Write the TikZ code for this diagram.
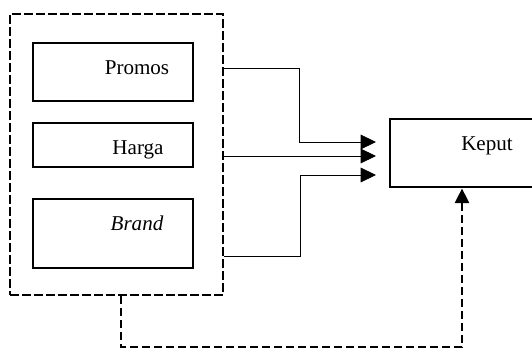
\documentclass[tikz,border=0pt]{standalone}
\usepackage{fontspec}
\setmainfont{Liberation Serif}
\usetikzlibrary{arrows.meta,fit}

\begin{document}
\begin{tikzpicture}[x=0.75pt,y=-0.75pt,
  box/.style={draw,line width=2.2pt,inner sep=0pt},
  groupbox/.style={draw,line width=2pt,inner sep=0pt,dash pattern=on 6.5pt off 2.5pt},
  label/.style={anchor=base,inner sep=0pt,font=\fontsize{15.8}{19}\selectfont},
  conn/.style={line width=0.6pt,-{Triangle[length=11.5pt,width=11pt]}},
  feedback/.style={line width=2.2pt,dash pattern=on 6pt off 3pt,
    -{Triangle[length=11pt,width=10.5pt]}}]
  \useasboundingbox (0,0) rectangle (532,349);
  \clip (0,0) rectangle (532,349);

  % grouped factors
  \node (grp) [groupbox, fit={(10,14)(223,295)}] {};
  \node (promos) [box, fit={(33,43)(193,101)}] {};
  \node (harga)  [box, fit={(33,123)(193,167)}] {};
  \node (brand)  [box, fit={(33,199)(193,268)}] {};
  \node (tpromos) [label] at (137,75) {Promos};
  \node (tharga)  [label] at (138,155) {Harga};
  \node (tbrand)  [label] at (137,231) {\itshape Brand};

  % decision box
  \node (keput) [box, fit={(390,119)(560,187)}] {};
  \node (tkeput) [label] at (487,151) {Keput};

  % connector heights and arrow tips
  \coordinate (y1) at (0,68);
  \coordinate (y2) at (0,156);
  \coordinate (y3) at (0,256);
  \coordinate (t1) at (376,142);
  \coordinate (t2) at (376,156);
  \coordinate (t3) at (376,175);

  \draw[conn] (grp.east |- y1) -| (299,142) -- (t1);
  \draw[conn] (grp.east |- y2) -- (t2);
  \draw[conn] (grp.east |- y3) -| (300,175) -- (t3);

  % feedback path from the group to the decision
  \coordinate (fx) at (121,0);
  \coordinate (kx) at (462,0);
  \draw[feedback] (grp.south -| fx) -- (121,347) -- (462,347) -- (keput.south -| kx);
\end{tikzpicture}
\end{document}
